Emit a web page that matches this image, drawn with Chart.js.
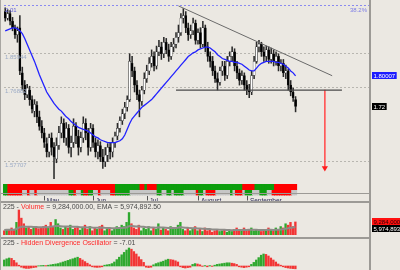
<!DOCTYPE html>
<html><head><meta charset="utf-8">
<script src="https://cdn.jsdelivr.net/npm/chart.js@4.4.0/dist/chart.umd.min.js"></script>
<style>
html,body{margin:0;padding:0;background:#ebe8e2;}
#wrap{position:relative;width:400px;height:270px;overflow:hidden;background:#ebe8e2;}
canvas{position:absolute;left:0;}
.hl{position:absolute;left:0;width:370px;background:#9c9a96;}
</style></head><body>
<div id="wrap">
<canvas id="cMain" width="400" height="183" style="top:0;width:400px;height:183px"></canvas>
<canvas id="cStrip" width="400" height="18" style="top:183px;width:400px;height:18px"></canvas>
<canvas id="cVol" width="400" height="35" style="top:202px;width:400px;height:35px"></canvas>
<canvas id="cOsc" width="400" height="31" style="top:239px;width:400px;height:31px"></canvas>
<div class="hl" style="top:193px;height:1px"></div>
<div class="hl" style="top:201px;height:2px"></div>
<div class="hl" style="top:237px;height:2px"></div>
<div style="position:absolute;left:369px;top:0;width:2px;height:270px;background:#9c9a96"></div>
<div style="position:absolute;left:0;top:0;width:1px;height:270px;background:#a8a6a2"></div>
</div>
<script>
// ---------- DATA ----------
const categories = Array.from({length: 150}, (_, i) => 'd' + i);
const monthTickIdx = [17, 37, 59, 80, 100];
const monthTickLabels = ['May', 'Jun', 'Jul', 'August', 'September'];

const open = [1.968,1.951,1.963,1.943,1.926,1.908,1.926,1.808,1.776,1.751,
 1.763,1.738,1.708,1.723,1.693,1.668,1.651,1.623,1.601,1.638,
 1.613,1.583,1.618,1.651,1.676,1.638,1.663,1.613,1.626,1.668,
 1.643,1.613,1.638,1.676,1.651,1.613,1.663,1.626,1.601,1.618,
 1.588,1.576,1.593,1.613,1.601,1.626,1.643,1.663,1.683,1.701,
 1.718,1.738,1.833,1.813,1.776,1.751,1.733,1.763,1.793,1.813,
 1.833,1.851,1.826,1.863,1.876,1.858,1.888,1.868,1.851,1.876,
 1.883,1.901,1.913,1.951,1.958,1.926,1.908,1.918,1.938,1.893,
 1.913,1.883,1.926,1.876,1.851,1.838,1.813,1.793,1.783,1.813,
 1.826,1.801,1.838,1.851,1.863,1.826,1.808,1.788,1.801,1.776,
 1.763,1.758,1.801,1.838,1.876,1.883,1.863,1.851,1.868,1.843,
 1.858,1.838,1.851,1.826,1.833,1.808,1.813,1.776,1.758,1.738];
const high = [1.978,1.973,1.971,1.953,1.933,1.928,1.958,1.823,1.788,1.778,
 1.773,1.748,1.738,1.733,1.708,1.683,1.663,1.638,1.648,1.651,
 1.626,1.638,1.668,1.693,1.688,1.678,1.673,1.643,1.688,1.678,
 1.658,1.653,1.693,1.688,1.663,1.676,1.673,1.638,1.633,1.628,
 1.608,1.613,1.623,1.626,1.638,1.653,1.676,1.693,1.713,1.731,
 1.748,1.858,1.851,1.823,1.788,1.763,1.773,1.808,1.828,1.848,
 1.868,1.863,1.878,1.893,1.888,1.901,1.898,1.883,1.888,1.898,
 1.913,1.933,1.963,1.976,1.968,1.938,1.933,1.951,1.946,1.923,
 1.926,1.943,1.933,1.888,1.863,1.851,1.826,1.808,1.823,1.838,
 1.838,1.851,1.863,1.876,1.871,1.838,1.818,1.813,1.808,1.788,
 1.778,1.813,1.851,1.888,1.893,1.888,1.876,1.878,1.876,1.873,
 1.868,1.863,1.858,1.843,1.843,1.828,1.818,1.788,1.768,1.746];
const low = [1.943,1.946,1.933,1.918,1.898,1.888,1.803,1.763,1.738,1.743,
 1.723,1.703,1.693,1.678,1.658,1.638,1.613,1.588,1.588,1.593,
 1.513,1.573,1.608,1.638,1.626,1.618,1.598,1.588,1.613,1.623,
 1.593,1.601,1.626,1.633,1.593,1.603,1.613,1.588,1.583,1.576,
 1.558,1.563,1.576,1.583,1.588,1.613,1.633,1.653,1.673,1.688,
 1.708,1.733,1.798,1.758,1.738,1.693,1.723,1.753,1.783,1.803,
 1.823,1.813,1.818,1.853,1.843,1.848,1.858,1.838,1.843,1.863,
 1.873,1.888,1.906,1.938,1.913,1.893,1.898,1.908,1.883,1.883,
 1.873,1.876,1.863,1.838,1.823,1.801,1.783,1.763,1.776,1.801,
 1.788,1.793,1.826,1.838,1.813,1.793,1.776,1.778,1.763,1.751,
 1.743,1.751,1.793,1.833,1.863,1.851,1.838,1.838,1.833,1.833,
 1.826,1.828,1.813,1.813,1.798,1.793,1.763,1.748,1.733,1.706];
const close = [1.951,1.963,1.943,1.926,1.908,1.918,1.813,1.776,1.751,1.768,
 1.738,1.713,1.726,1.693,1.668,1.651,1.626,1.601,1.638,1.613,
 1.588,1.618,1.651,1.676,1.638,1.663,1.613,1.626,1.668,1.643,
 1.613,1.638,1.676,1.651,1.613,1.663,1.626,1.601,1.618,1.588,
 1.576,1.593,1.613,1.601,1.626,1.643,1.663,1.683,1.701,1.718,
 1.738,1.838,1.813,1.776,1.751,1.733,1.763,1.793,1.813,1.833,
 1.851,1.826,1.863,1.876,1.858,1.888,1.868,1.851,1.876,1.883,
 1.901,1.913,1.951,1.958,1.926,1.908,1.918,1.938,1.893,1.913,
 1.883,1.926,1.876,1.851,1.838,1.813,1.793,1.783,1.813,1.826,
 1.801,1.838,1.851,1.863,1.826,1.808,1.788,1.801,1.776,1.763,
 1.758,1.801,1.838,1.876,1.883,1.863,1.851,1.868,1.843,1.858,
 1.838,1.851,1.826,1.833,1.808,1.813,1.776,1.758,1.743,1.72];
const ema = [1.918,1.9205,1.923,1.9255,1.9255,1.923,1.918,1.9105,1.898,1.883,
 1.868,1.853,1.838,1.8205,1.803,1.788,1.773,1.758,1.748,1.738,
 1.728,1.7205,1.713,1.708,1.7005,1.693,1.688,1.6805,1.6755,1.6705,
 1.6655,1.663,1.6605,1.658,1.6555,1.6505,1.6455,1.6405,1.638,1.633,
 1.6305,1.628,1.6255,1.6255,1.6255,1.6255,1.628,1.6305,1.6355,1.6455,
 1.6605,1.6755,1.688,1.6955,1.703,1.7105,1.718,1.723,1.728,1.733,
 1.738,1.7455,1.753,1.7605,1.768,1.7755,1.783,1.7905,1.798,1.8055,
 1.813,1.8205,1.828,1.8355,1.843,1.8505,1.8555,1.8605,1.863,1.868,
 1.8705,1.873,1.8755,1.8755,1.873,1.868,1.863,1.8555,1.8505,1.8455,
 1.843,1.8405,1.838,1.838,1.8355,1.8355,1.833,1.8305,1.8255,1.8205,
 1.8155,1.813,1.813,1.8205,1.828,1.833,1.8355,1.838,1.838,1.838,
 1.838,1.8355,1.8355,1.833,1.8305,1.8255,1.8205,1.813,1.808,1.80007];

const gridValues = [1.983, 1.85944, 1.76882, 1.57707];
const gridLabels = ['2.01', '1.85944', '1.76882', '1.57707'];
const fibLabel = '38.2%';
const trendStart = {i: 71, v: 1.983};
const trendEnd = {i: 134, v: 1.8005};
const supportLevel = 1.763;
const supportFrom = 70, supportTo = 138;
const arrowIdx = 131, arrowFrom = 1.763, arrowTo = 1.563, arrowTip = 1.5592;
const priceAxis = {min: 1.5305, max: 1.988};

const stripTopRuns = [['G',2],['R',44],['G',10],['R',2],['G',1],['R',4],['G',35],['R',5],['G',8],['R',9]];
const stripBottomRuns = [['G',2],['R',6],['S',2],['R',1],['S',2],['R',1],['S',13],['G',2],['R',1],['S',2],['G',1],['R',2],['G',2],['S',2],['R',1],['S',4],['R',2],['G',6],['S',11],['G',2],['S',2],['G',2],['S',1],['G',4],['S',5],['R',1],['G',2],['S',1],['R',4],['S',6],['G',1],['S',1],['R',3],['S',1],['G',3],['S',3],['G',3],['S',2],['R',8],['S',2]];

const volumes = [3,4,3.5,5,4,9,17.8,12,8,5,
 6,4,5,6,4.5,5,6,7,5,9,
 6,11,8,5,4,6,5,7,4,5,
 6,3.5,5,7,4,6,3,5,4,6,
 7,3,4,5,3,4,6,5,7,6,
 9,16,8,5,4,7,3,5,4,6,
 3,5,4,8,3.5,5,4,3,6,4,
 5,7,9,4,3,5,3,4,6,3,
 4,2.5,5,3,4,2,3,4,2.5,3,
 4,2,3,2.5,4,5,3,4,5,3,
 4,5,3,4,3,2.5,4,3,5,4,
 3,5,4,6,5,8,7,9,6,9.284]; // millions
const volEma = [3.6,3.7,3.7,3.8,3.8,4.3,5.3,5.8,6.0,5.9,
 5.9,5.8,5.7,5.7,5.6,5.6,5.6,5.7,5.6,6.0,
 6.0,6.4,6.5,6.3,6.1,6.1,6.0,6.1,5.9,5.8,
 5.8,5.6,5.5,5.6,5.4,5.5,5.3,5.2,5.1,5.2,
 5.3,5.1,5.0,5.0,4.8,4.8,4.9,4.9,5.0,5.1,
 5.4,6.3,6.5,6.3,6.1,6.2,5.9,5.8,5.6,5.6,
 5.4,5.4,5.2,5.5,5.3,5.3,5.2,5.0,5.1,5.0,
 5.0,5.2,5.6,5.4,5.1,5.1,4.9,4.8,4.9,4.7,
 4.6,4.4,4.4,4.3,4.2,4.0,3.9,3.9,3.8,3.7,
 3.7,3.6,3.5,3.4,3.5,3.6,3.5,3.6,3.7,3.6,
 3.7,3.8,3.7,3.7,3.6,3.5,3.6,3.5,3.7,3.7,
 3.6,3.8,3.8,4.0,4.1,4.5,4.8,5.2,5.3,5.9748925];
const volAxis = {min: 0, max: 23.5};

const osc = [15,18,20,19,14,8,2,-3,-5,-6,
 -6,-5,-4,-3,0.5,1,1.5,1,2,3,
 4,5,6,8,10,12,14,16,18,20,
 22,19,15,11,7,3,-2,-3,-3.5,-3,
 -2,2,3,4,6,10,16,22,28,34,
 40,45,42,36,30,23,16,9,-3,-4,
 -3,3,6,8,10,12,15,17,16,15,
 13,10,-2,-4,-5,-4,-3,4,6,5,
 3,-1,1,-2,1,-1,2,4,5,6,
 7,8,8,7,6,4,-2,-3,-4,-3,
 -2,4,9,15,21,27,30,29,25,20,
 15,10,5,2,-2,-4,-5,-6,-6.5,-7.01];
const oscAxis = {min: -10, max: 67.5};

// ---------- DERIVED ----------
const FONT = "'Liberation Sans', Arial, sans-serif";
const last = close.length - 1;
function expandRuns(runs){ const out=[]; runs.forEach(([c,n])=>{for(let k=0;k<n;k++) out.push(c);}); return out; }
const stripColor = {R:'#ff0000', G:'#0d9e0d', S:'#c6c6c6'};
const stripTop = expandRuns(stripTopRuns), stripBottom = expandRuns(stripBottomRuns);

const wicks = low.map((l, i) => [l, high[i]]);
const bodies = open.map((o, i) => [o, close[i]]);
const bodyColors = open.map((o, i) => close[i] >= o ? '#ffffff' : '#000000');
const volColors = open.map((o, i) => close[i] >= o ? '#2ea82e' : '#f23434');
const oscColors = osc.map((v, i) => (v >= 0 && (i === 0 || v >= osc[i-1])) ? '#2ea82e' : '#f23434');
const trendData = categories.map((_, i) => i === trendStart.i ? trendStart.v : (i === trendEnd.i ? trendEnd.v : null));
const supportData = categories.map((_, i) => (i === supportFrom || i === supportTo) ? supportLevel : null);
const arrowLine = categories.map((_, i) => i === arrowIdx ? [arrowTo, arrowFrom] : null);
const arrowHead = categories.map((_, i) => i === arrowIdx ? arrowTip : null);

function fmt(v, d){ return Number(v.toFixed(2)).toLocaleString('en-US', {minimumFractionDigits: d, maximumFractionDigits: d}); }

function box(ctx, text, x, yc, bg, fg, h) {
  const w = ctx.measureText(text).width + 3;
  ctx.fillStyle = bg; ctx.fillRect(x, Math.round(yc - h/2), w, h);
  ctx.fillStyle = fg; ctx.textAlign = 'left'; ctx.textBaseline = 'middle';
  ctx.fillText(text, x + 1.5, Math.round(yc - h/2) + h/2 + 0.5);
  return Math.round(yc - h/2) + h;
}
function titleLine(ctx, parts, x, y) {
  ctx.font = '7px ' + FONT; ctx.textBaseline = 'middle'; ctx.textAlign = 'left';
  parts.forEach(([t, c]) => { ctx.fillStyle = c; ctx.fillText(t, x, y); x += ctx.measureText(t).width; });
}

const base = {
  responsive: false, animation: false, devicePixelRatio: 1, events: [],
  plugins: {legend: {display: false}, tooltip: {enabled: false}}
};
const PAD = {left: 3, right: 30, top: 0, bottom: 0};

// ---------- MAIN PRICE CHART ----------
const mainText = {
  id: 'mainText',
  afterDraw(chart) {
    const {ctx, chartArea, scales: {y}} = chart;
    ctx.save();
    ctx.font = '6px ' + FONT; ctx.textBaseline = 'middle'; ctx.textAlign = 'left';
    gridValues.forEach((v, k) => {
      ctx.fillStyle = k === 0 ? '#5c5cd6' : '#9cabc6';
      ctx.fillText(gridLabels[k], chartArea.left + 1, y.getPixelForValue(v) + 4);
    });
    ctx.fillStyle = '#7c7ce6'; ctx.textAlign = 'right';
    ctx.fillText(fibLabel, chartArea.right - 3, y.getPixelForValue(gridValues[0]) + 4);
    ctx.font = '6px ' + FONT;
    box(ctx, ema[last].toFixed(5), chartArea.right + 2, y.getPixelForValue(ema[last]), '#1c1cff', '#ffffff', 7);
    box(ctx, String(close[last]), chartArea.right + 2, y.getPixelForValue(close[last]), '#000000', '#ffffff', 7);
    ctx.restore();
  }
};
new Chart(document.getElementById('cMain'), {
  type: 'bar',
  data: {labels: categories, datasets: [
    {type: 'line', data: arrowHead, showLine: false, pointStyle: 'triangle', rotation: 180, pointRadius: 3.6, pointBackgroundColor: '#ff1c1c', pointBorderColor: '#ff1c1c', pointBorderWidth: 0, order: -4},
    {type: 'line', data: ema, borderColor: '#2222ff', borderWidth: 1.3, pointRadius: 0, tension: 0, order: -3},
    {type: 'line', data: trendData, borderColor: '#6a6a6a', borderWidth: 1, pointRadius: 0, spanGaps: true, order: -2},
    {type: 'line', data: supportData, borderColor: '#4a4a4a', borderWidth: 1.2, pointRadius: 0, spanGaps: true, order: -2},
    {type: 'bar', data: arrowLine, backgroundColor: '#ff5656', barThickness: 1, grouped: false, order: -1},
    {type: 'bar', data: bodies, backgroundColor: bodyColors, borderColor: '#1a1a1a', borderWidth: 0.5, borderSkipped: false, barThickness: 2.1, grouped: false, order: 1},
    {type: 'bar', data: wicks, backgroundColor: '#2a2a2a', barThickness: 0.9, grouped: false, order: 2}
  ]},
  options: Object.assign({}, base, {
    layout: {padding: PAD},
    scales: {
      x: {display: false, offset: true},
      y: {display: true, min: priceAxis.min, max: priceAxis.max,
          ticks: {display: false},
          border: {display: false, dash: [2, 2]},
          grid: {drawTicks: false, lineWidth: 1, color: c => c.index === 0 ? '#8a8af0' : '#b8b6b0'},
          afterBuildTicks: s => { s.ticks = gridValues.map(v => ({value: v})); }}
    }
  }),
  plugins: [mainText]
});

// ---------- STRIP + DATE AXIS ----------
new Chart(document.getElementById('cStrip'), {
  type: 'bar',
  data: {labels: categories, datasets: [
    {data: stripTop.map(() => [1, 2]), backgroundColor: stripTop.map(c => stripColor[c]), barThickness: 2.8, grouped: false, borderWidth: 0},
    {data: stripBottom.map(() => [0, 1]), backgroundColor: stripBottom.map(c => stripColor[c]), barThickness: 2.8, grouped: false, borderWidth: 0}
  ]},
  options: Object.assign({}, base, {
    layout: {padding: {left: 3, right: 30, top: 1, bottom: 0}},
    scales: {
      y: {display: false, min: 0, max: 2},
      x: {display: true, offset: true,
          border: {display: false},
          grid: {drawOnChartArea: false, drawTicks: true, tickLength: 5, tickWidth: 1,
                 tickColor: c => monthTickIdx.includes(c.index) ? '#555555' : 'rgba(0,0,0,0)'},
          ticks: {autoSkip: false, maxRotation: 0, minRotation: 0, padding: -3, align: 'start', labelOffset: 1,
                  color: '#2e2e58', font: {size: 6.5, family: FONT, lineHeight: 1},
                  callback: (v, i) => { const k = monthTickIdx.indexOf(i); return k >= 0 ? monthTickLabels[k] : ''; }}}
    }
  })
});

// ---------- VOLUME ----------
const volText = {
  id: 'volText',
  afterDraw(chart) {
    const {ctx, chartArea, scales: {y}} = chart;
    ctx.save();
    titleLine(ctx, [['225 - ', '#4a4a4a'], ['Volume', '#ff2a2a'],
      [' = ' + fmt(volumes[last] * 1e6, 2) + ', EMA = ' + fmt(volEma[last] * 1e6, 2), '#4a4a4a']], 3, 5);
    ctx.font = '6px ' + FONT;
    const b = box(ctx, fmt(volumes[last] * 1e6, 0), chartArea.right + 2, y.getPixelForValue(volumes[last]), '#ff1010', '#2a0000', 7);
    box(ctx, fmt(volEma[last] * 1e6, 0), chartArea.right + 2, b + 3.5, '#000000', '#ffffff', 7);
    ctx.restore();
  }
};
new Chart(document.getElementById('cVol'), {
  type: 'bar',
  data: {labels: categories, datasets: [
    {type: 'line', data: volEma, borderColor: '#8e8c88', borderWidth: 2, pointRadius: 0, order: 0},
    {type: 'bar', data: volumes, backgroundColor: volColors, barThickness: 1.7, grouped: false, order: 1}
  ]},
  options: Object.assign({}, base, {
    layout: {padding: {left: 3, right: 30, top: 0, bottom: 2}},
    scales: {x: {display: false, offset: true}, y: {display: false, min: volAxis.min, max: volAxis.max}}
  }),
  plugins: [volText]
});

// ---------- OSCILLATOR ----------
const oscText = {
  id: 'oscText',
  afterDraw(chart) {
    const {ctx} = chart;
    ctx.save();
    titleLine(ctx, [['225 - ', '#4a4a4a'], ['Hidden Divergence Oscillator', '#ff2a2a'], [' = ' + osc[last].toFixed(2), '#4a4a4a']], 3, 4);
    ctx.restore();
  }
};
new Chart(document.getElementById('cOsc'), {
  type: 'bar',
  data: {labels: categories, datasets: [
    {data: osc, backgroundColor: oscColors, barThickness: 1.7, grouped: false}
  ]},
  options: Object.assign({}, base, {
    layout: {padding: PAD},
    scales: {x: {display: false, offset: true}, y: {display: false, min: oscAxis.min, max: oscAxis.max}}
  }),
  plugins: [oscText]
});
</script>
</body></html>
